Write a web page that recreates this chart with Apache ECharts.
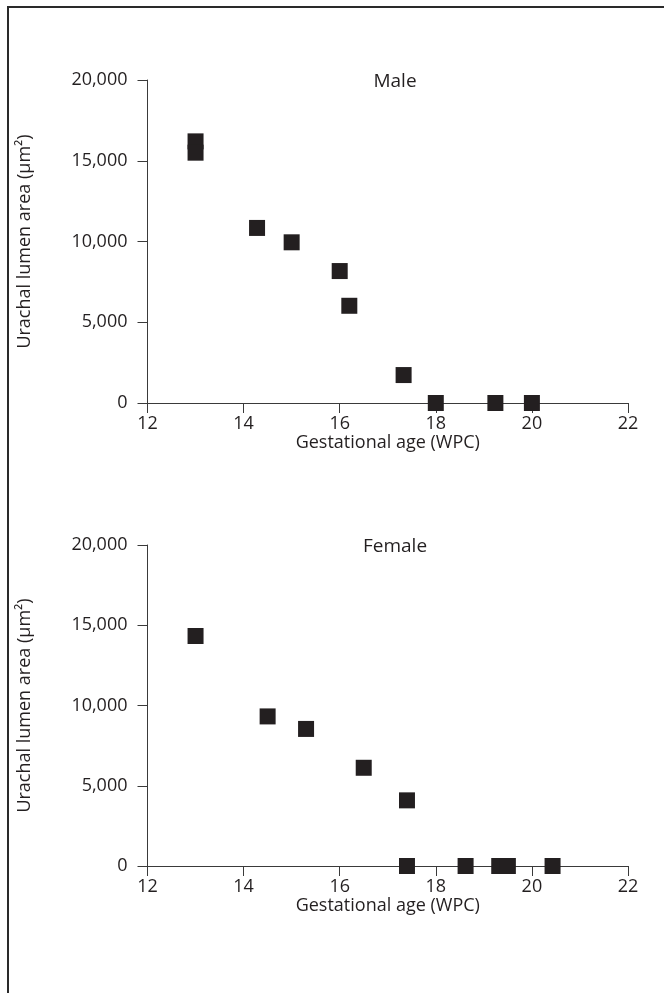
<!DOCTYPE html>
<html lang="en">
  <head>
    <meta charset="utf-8" />
    <title>Urachal lumen area</title>
    <script src="https://cdn.jsdelivr.net/npm/echarts@6/dist/echarts.min.js"></script>
    <style>
      html, body { margin: 0; padding: 0; background: #fff; }
      #main { width: 664px; height: 993px; }
    </style>
  </head>
  <body>
    <div id="main"></div>
    <script>
      // panel titles
      var panels = ["Male", "Female"];
      // gestational age (WPC) and lumen area (um2)
      var maleAge = [13, 13, 14.28, 15, 16, 16.2, 17.33, 18, 19.24, 20];
      var maleArea = [16200, 15500, 10840, 9950, 8170, 6020, 1730, 0, 0, 0];
      var femaleAge = [13, 14.5, 15.3, 16.5, 17.4, 17.4, 18.62, 19.32, 19.5, 20.43];
      var femaleArea = [14330, 9320, 8540, 6120, 4090, 0, 0, 0, 0, 0];
      var xTicks = [12, 14, 16, 18, 20, 22];
      var yTicks = [0, 5000, 10000, 15000, 20000];

      var font = "Open Sans";
      var ink = "#231f20";

      function pairs(xs, ys) {
        return xs.map(function (x, i) {
          return [x, ys[i]];
        });
      }

      function fmt(v) {
        return v.toLocaleString("en-US");
      }

      var grids = [
        { left: 147.5, right: 36, top: 80, height: 323 },
        { left: 147.5, right: 36, top: 545, height: 321 },
      ];

      var xAxes = grids.map(function (g, i) {
        return {
          type: "value",
          gridIndex: i,
          min: xTicks[0],
          max: xTicks[xTicks.length - 1],
          interval: 2,
          name: "Gestational age (WPC)",
          nameLocation: "middle",
          nameGap: 19,
          nameTextStyle: { fontFamily: font, fontSize: 18, color: ink },
          axisLine: { onZero: false, lineStyle: { color: "#3a3a3a", width: 1 } },
          axisTick: { show: true, length: 10, inside: false, lineStyle: { color: "#3a3a3a" } },
          axisLabel: { margin: 12, fontFamily: font, fontSize: 18, color: ink },
          splitLine: { show: false },
        };
      });

      var yAxes = grids.map(function (g, i) {
        return {
          type: "value",
          gridIndex: i,
          min: yTicks[0],
          max: yTicks[yTicks.length - 1],
          interval: 5000,
          name: "Urachal lumen area (\u03bcm\u00b2)",
          nameLocation: "middle",
          nameGap: 114,
          nameRotate: 90,
          nameTextStyle: { fontFamily: font, fontSize: 18, color: ink },
          axisLine: { show: true, lineStyle: { color: "#3a3a3a", width: 1 } },
          axisTick: { show: true, length: 10, lineStyle: { color: "#3a3a3a" } },
          axisLabel: { margin: 20, fontFamily: font, fontSize: 18, color: ink, formatter: fmt },
          splitLine: { show: false },
        };
      });

      var chart = echarts.init(document.getElementById("main"), null, { renderer: "canvas" });
      chart.setOption({
        backgroundColor: "#fff",
        animation: false,
        title: panels.map(function (p, i) {
          return {
            text: p,
            left: 390,
            top: i === 0 ? 67 : 532,
            textAlign: "center",
            textStyle: { fontFamily: font, fontSize: 19, fontWeight: "normal", color: ink },
          };
        }),
        graphic: [
          {
            type: "rect",
            shape: { x: 8, y: 7, width: 720, height: 1040 },
            style: { fill: "none", stroke: "#2a2a2a", lineWidth: 2 },
          },
        ],
        grid: grids,
        xAxis: xAxes,
        yAxis: yAxes,
        series: [
          {
            name: "Male",
            type: "scatter",
            xAxisIndex: 0,
            yAxisIndex: 0,
            symbol: "rect",
            symbolSize: 16,
            itemStyle: { color: ink, opacity: 1 },
            data: pairs(maleAge, maleArea),
          },
          {
            name: "Female",
            type: "scatter",
            xAxisIndex: 1,
            yAxisIndex: 1,
            symbol: "rect",
            symbolSize: 16,
            itemStyle: { color: ink, opacity: 1 },
            data: pairs(femaleAge, femaleArea),
          },
        ],
      });
    </script>
  </body>
</html>
